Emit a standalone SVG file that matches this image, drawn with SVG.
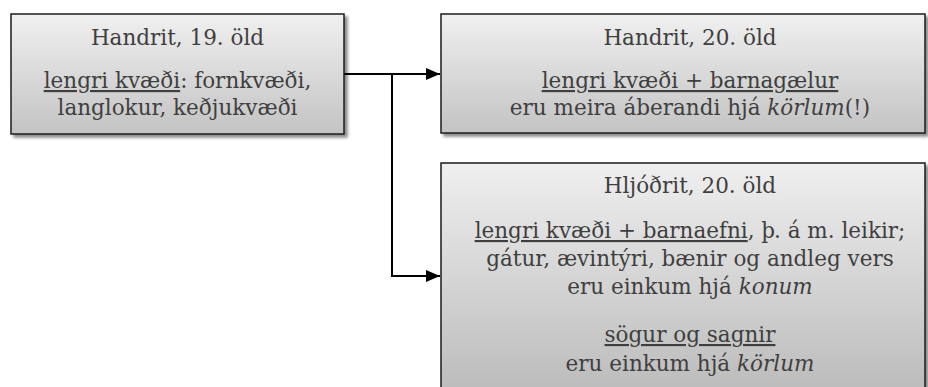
<svg xmlns="http://www.w3.org/2000/svg" width="928" height="387" viewBox="0 0 928 387">
<defs>
  <linearGradient id="g1" x1="0" y1="0" x2="0" y2="1">
    <stop offset="0" stop-color="#f0f0f0"/>
    <stop offset="1" stop-color="#c3c3c3"/>
  </linearGradient>
  <linearGradient id="g3" x1="0" y1="0" x2="0" y2="1">
    <stop offset="0" stop-color="#efefef"/>
    <stop offset="1" stop-color="#b9b9b9"/>
  </linearGradient>
  <filter id="sh" x="-5%" y="-5%" width="115%" height="120%">
    <feDropShadow dx="3" dy="3" stdDeviation="1.8" flood-color="#000" flood-opacity="0.45"/>
  </filter>
  <marker id="arr" markerUnits="userSpaceOnUse" markerWidth="14" markerHeight="12" refX="14" refY="6" orient="auto">
    <path d="M0,0 L14,6 L0,12 z" fill="#000"/>
  </marker>
  <style>
    .box { stroke: #1c1c1c; stroke-width: 1.5; filter: url(#sh); }
    .t { font-family: 'DejaVu Serif', serif; font-size: 21.5px; fill: #3f3f3f; text-anchor: middle; }
    .u { text-decoration: underline; }
    .i { font-style: italic; }
    .c { fill: none; stroke: #000; stroke-width: 2; }
  </style>
</defs>

<g id="connectors">
  <path class="c" d="M344,74 H440" marker-end="url(#arr)"/>
  <path class="c" d="M392,74 V276 H440" marker-end="url(#arr)"/>
</g>

<g id="node1">
  <rect class="box" x="11" y="14" width="333" height="120" fill="url(#g1)"/>
  <text class="t" x="177.5" y="45">Handrit, 19. öld</text>
  <text class="t" x="177.5" y="88"><tspan class="u">lengri kvæði</tspan>: fornkvæði,</text>
  <text class="t" x="177.5" y="115">langlokur, keðjukvæði</text>
</g>

<g id="node2">
  <rect class="box" x="441" y="14" width="484" height="119" fill="url(#g1)"/>
  <text class="t" x="690" y="45">Handrit, 20. öld</text>
  <text class="t" x="690" y="88"><tspan class="u">lengri kvæði + barnagælur</tspan></text>
  <text class="t" x="690" y="115">eru meira áberandi hjá <tspan class="i">körlum</tspan>(!)</text>
</g>

<g id="node3">
  <rect class="box" x="441" y="163" width="484" height="240" fill="url(#g3)"/>
  <text class="t" x="690" y="193">Hljóðrit, 20. öld</text>
  <text class="t" x="690" y="238"><tspan class="u">lengri kvæði + barnaefni</tspan>, þ. á m. leikir;</text>
  <text class="t" x="690" y="266">gátur, ævintýri, bænir og andleg vers</text>
  <text class="t" x="690" y="294">eru einkum hjá <tspan class="i">konum</tspan></text>
  <text class="t" x="690" y="342"><tspan class="u">sögur og sagnir</tspan></text>
  <text class="t" x="690" y="371">eru einkum hjá <tspan class="i">körlum</tspan></text>
</g>
</svg>
